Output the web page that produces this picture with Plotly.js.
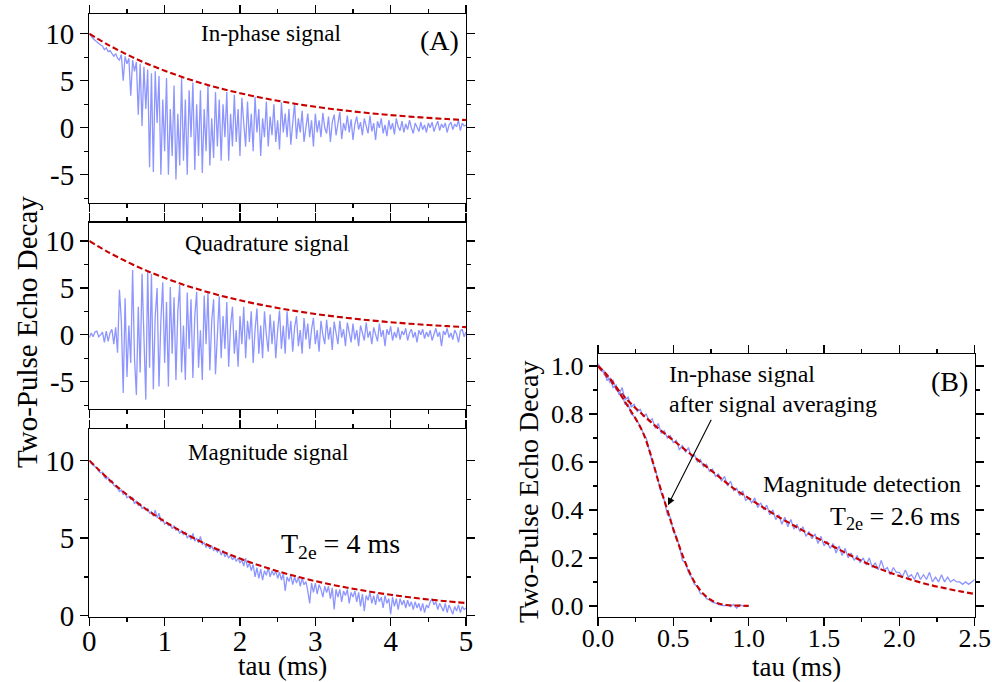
<!DOCTYPE html>
<html>
<head>
<meta charset="utf-8">
<script src="https://cdn.plot.ly/plotly-3.0.1.min.js"></script>
<style>html,body{margin:0;padding:0;background:#fff;}#chart{width:992px;height:682px;}</style>
</head>
<body>
<div id="chart"></div>
<script>
// ---- Data ----
// Panel A: sampled every 0.025 ms from 0 to 5 ms
const tauStartA = 0;
const tauStepA = 0.025;
const inPhaseA = [
10.0,9.7,9.5,9.3,9.1,9.0,8.8,8.7,8.3,8.5,8.1,8.2,7.9,7.6,7.9,7.4,7.2,7.8,5.0,7.6,
6.8,7.4,3.4,7.2,6.0,7.0,1.4,6.8,0.2,6.5,2.0,6.2,-4.2,5.8,-4.7,6.0,0.5,5.5,-5.0,3.0,
-2.5,5.3,-5.0,2.0,-3.0,4.5,-5.5,1.5,-4.0,5.3,-3.5,3.0,-5.0,4.0,-1.0,4.8,-4.5,2.5,-3.0,4.0,
-4.8,2.0,-2.5,4.5,-4.0,1.0,-3.2,3.8,-2.0,3.0,-3.5,2.5,-1.0,3.8,-3.5,1.5,-2.0,3.5,-1.5,2.0,
-3.0,3.2,0.5,-2.0,2.8,-1.5,1.5,-2.5,3.3,-0.5,2.0,-3.0,1.0,-1.0,2.8,-2.0,1.2,-0.8,2.5,-1.5,
0.8,-2.3,2.7,-0.5,1.5,-1.0,2.0,-1.8,0.5,2.6,-1.2,1.0,-0.5,1.8,-1.5,0.2,1.5,-1.0,0.8,-2.0,
1.5,-0.5,0.8,-1.0,1.6,0.0,-0.6,1.2,-1.5,0.6,1.4,-0.8,0.3,1.7,-1.2,0.5,-0.3,1.3,-0.5,0.9,
-1.3,0.4,1.2,-0.2,0.6,-0.8,1.0,0.0,-0.6,1.3,-0.4,0.5,-1.3,0.7,0.0,1.0,-0.6,0.3,-0.9,0.8,
-0.2,0.5,-0.7,1.0,0.1,-0.3,0.7,-0.5,0.4,-0.2,0.8,0.0,-0.6,0.5,0.1,-0.4,0.6,-0.2,0.3,-0.5,
0.5,0.0,0.6,-0.4,0.2,0.7,-0.3,0.4,0.0,0.5,-0.5,0.3,0.6,-0.2,0.4,0.1,0.8,-0.3,0.5,0.2,
0.3];
const quadratureA = [
-0.3,0.2,-0.2,0.3,0.4,-0.2,0.0,0.3,-0.8,0.4,-0.7,0.2,0.6,-1.0,0.8,-1.9,4.8,1.5,-6.2,3.9,
-4.5,1.0,-3.0,6.9,-2.5,-6.4,3.0,-4.0,6.5,-1.0,-6.9,6.8,-3.5,6.5,-5.8,2.0,5.0,-5.5,1.5,5.6,
-3.0,3.5,-5.5,5.1,-2.0,4.0,-4.8,2.5,5.3,-4.0,1.0,-4.8,4.5,-1.5,3.8,-4.6,2.0,4.6,-3.5,0.5,
-4.8,4.2,-1.0,4.6,-3.8,1.5,3.8,-4.2,0.5,4.1,-2.5,2.0,-1.5,3.5,-3.4,1.0,3.0,-2.0,0.5,-3.4,
2.0,-1.0,3.0,-2.5,1.5,-0.5,2.5,-3.0,0.5,2.8,-2.0,1.0,-2.5,2.5,0.0,-1.8,2.2,-1.0,1.5,-2.5,
0.5,2.6,-1.5,1.0,-2.0,2.5,-0.5,1.5,-1.8,0.8,2.0,-1.2,0.5,-2.0,1.8,-0.5,1.2,-1.5,0.6,1.8,
-1.0,0.5,-1.8,1.5,0.0,-1.0,1.6,-0.5,0.8,-1.6,1.4,0.2,-1.0,1.5,-0.3,0.6,-1.2,1.3,0.0,-0.8,
1.2,-0.5,0.5,-1.2,1.0,0.2,-0.6,1.3,-0.3,0.4,-1.0,0.8,0.0,-0.7,1.2,-0.2,0.5,-1.2,0.6,0.0,
0.9,-0.6,0.3,-0.3,0.8,-0.5,0.4,0.0,0.7,-0.6,0.2,0.6,-0.3,0.3,-0.8,0.5,0.0,0.6,-0.4,0.3,
-0.2,0.5,-0.6,0.2,0.7,-0.2,0.3,-1.2,0.4,0.0,0.7,-0.3,0.2,-0.5,0.5,0.1,-0.8,0.4,0.6,-0.2,
0.3];
const magnitudeA = [
10.0,9.8,9.7,9.6,9.5,9.3,9.2,9.25,8.9,8.8,8.9,8.6,8.7,8.4,8.3,8.2,8.0,8.1,7.8,7.9,
7.6,7.7,7.5,7.6,7.2,7.4,7.1,7.2,6.9,7.0,6.8,6.9,6.6,6.7,6.4,6.8,6.3,6.6,6.1,6.2,
5.9,6.0,5.8,5.9,5.6,5.8,5.5,5.6,5.3,5.5,5.2,5.4,5.0,5.2,4.9,5.3,4.8,5.0,4.7,5.1,
4.6,4.7,4.4,4.6,4.3,4.5,4.2,4.3,4.1,4.3,3.9,4.2,3.8,4.0,3.7,3.9,3.6,3.8,3.5,3.7,
3.4,3.6,3.2,3.7,3.1,3.4,2.9,3.3,2.5,3.1,2.4,3.0,2.3,2.9,2.6,3.1,2.5,2.9,2.6,2.9,
2.4,2.8,2.3,2.7,1.6,2.5,2.2,2.6,2.0,2.5,2.1,2.5,1.9,2.4,2.0,2.2,1.6,0.8,2.1,1.5,
2.1,1.4,2.0,1.7,1.2,1.9,1.5,1.9,1.1,1.8,0.4,1.7,1.2,1.7,0.9,1.6,1.3,1.7,0.8,1.5,
1.2,1.6,0.9,1.5,0.6,1.4,0.3,1.3,1.0,1.5,0.8,1.3,0.7,1.4,0.9,1.2,0.5,1.3,0.8,1.1,
0.1,1.2,0.6,1.1,0.4,1.1,0.7,1.0,0.5,1.0,0.6,0.9,0.4,0.9,0.5,0.8,0.3,0.8,0.2,0.7,
0.5,0.9,1.1,0.7,0.9,0.4,0.8,0.5,0.3,0.8,0.2,0.7,0.4,0.1,0.6,0.3,0.7,0.2,0.6,0.4,
0.5];
// Exponential fit (red dashed) for panel A, every 0.25 ms
const fitStepA = 0.25;
const fitA = [10,8.82,7.79,6.87,6.07,5.35,4.72,4.17,3.68,3.25,2.87,2.53,2.23,1.97,1.74,1.53,1.35,1.19,1.05,0.93,0.82];

// Panel B: sampled every 0.02 ms
const tauStepB = 0.02;
const magnitudeB = [
1.01,0.99,0.98,0.94,0.95,0.91,0.92,0.88,0.91,0.86,0.87,0.83,0.84,0.81,0.82,0.79,0.80,0.77,0.78,0.74,
0.76,0.72,0.73,0.70,0.71,0.68,0.69,0.65,0.67,0.64,0.66,0.62,0.63,0.60,0.61,0.58,0.59,0.56,0.57,0.54,
0.55,0.52,0.54,0.50,0.52,0.48,0.49,0.46,0.48,0.44,0.45,0.43,0.45,0.41,0.43,0.40,0.42,0.38,0.40,0.36,
0.38,0.34,0.37,0.33,0.36,0.32,0.34,0.31,0.33,0.29,0.31,0.28,0.30,0.26,0.29,0.25,0.27,0.24,0.26,0.22,
0.25,0.21,0.24,0.20,0.22,0.19,0.21,0.18,0.20,0.17,0.20,0.16,0.18,0.15,0.19,0.15,0.16,0.13,0.16,0.14,
0.14,0.12,0.15,0.12,0.13,0.11,0.14,0.11,0.13,0.11,0.14,0.10,0.12,0.10,0.13,0.10,0.12,0.10,0.11,0.10,
0.10,0.09,0.10,0.09,0.10,0.11];
const inPhaseAvgB = [
1.0,0.99,0.97,0.96,0.93,0.94,0.90,0.89,0.88,0.84,0.84,0.80,0.79,0.77,0.75,0.72,0.70,0.65,0.60,0.57,
0.52,0.47,0.44,0.38,0.37,0.31,0.29,0.25,0.19,0.18,0.14,0.12,0.09,0.08,0.05,0.05,0.03,0.025,0.015,0.012,
0.005,0.004,0.0,0.005,-0.003,0.006,-0.01,0.004,0.0,-0.003,0.0];
const fitStepBMag = 0.1;
const fitBMag = [1.0,0.926,0.855,0.795,0.74,0.69,0.64,0.59,0.54,0.49,0.449,0.409,0.37,0.335,0.30,0.268,0.235,0.203,0.173,0.147,0.125,0.105,0.088,0.074,0.061,0.05];
const fitStepBIn = 0.05;
const fitBIn = [1.0,0.97,0.93,0.88,0.83,0.78,0.72,0.63,0.52,0.42,0.32,0.23,0.15,0.09,0.05,0.025,0.01,0.004,0.002,0.001,0.0];

const yTicksA = [-5,0,5,10];
const yTickTextA = ['-5','0','5','10'];

// ---- Styling ----
const FONT = 'Liberation Serif, Times New Roman, serif';
const BLUE = '#8d95ff';
const RED = '#c80000';
const W = 992, H = 682;
const px = v => v / W;
const py = v => 1 - v / H;

function blue(y, x0, dx, xa, ya) {
  return {type:'scatter', mode:'lines', y:y, x0:x0, dx:dx, xaxis:xa, yaxis:ya,
    line:{color:BLUE, width:1.3}, hoverinfo:'skip', showlegend:false};
}
function fit(y, dx, xa, ya) {
  return {type:'scatter', mode:'lines', y:y, x0:0, dx:dx, xaxis:xa, yaxis:ya,
    line:{color:RED, width:2.1, dash:'6px,3px', shape:'spline'}, hoverinfo:'skip', showlegend:false};
}

const traces = [
  blue(inPhaseA, tauStartA, tauStepA, 'x', 'y'), fit(fitA, fitStepA, 'x', 'y'),
  blue(quadratureA, tauStartA, tauStepA, 'x2', 'y2'), fit(fitA, fitStepA, 'x2', 'y2'),
  blue(magnitudeA, tauStartA, tauStepA, 'x3', 'y3'), fit(fitA, fitStepA, 'x3', 'y3'),
  blue(magnitudeB, 0, tauStepB, 'x4', 'y4'), fit(fitBMag, fitStepBMag, 'x4', 'y4'),
  blue(inPhaseAvgB, 0, tauStepB, 'x4', 'y4'), fit(fitBIn, fitStepBIn, 'x4', 'y4')
];

function axis(extra, fs) {
  return Object.assign({
    showline:true, linecolor:'black', linewidth:1.3, mirror:'allticks',
    ticks:'outside', ticklen:8, tickwidth:1.2, tickcolor:'black',
    showgrid:false, zeroline:false, fixedrange:true,
    tickfont:{family:FONT, size:fs, color:'black'}
  }, extra);
}
const minorX = {dtick:0.5, ticks:'outside', ticklen:4, tickwidth:1.2, tickcolor:'black', showgrid:false};
const minorY = {dtick:2.5, ticks:'outside', ticklen:4, tickwidth:1.2, tickcolor:'black', showgrid:false};

const FA = 29, FB = 26;
const domAx = [px(89.3), px(466)];

function label(text, x, y, size, xanchor) {
  return {text:text, x:px(x), y:py(y), xref:'paper', yref:'paper', showarrow:false,
    xanchor:xanchor || 'center', yanchor:'middle', font:{family:FONT, size:size, color:'black'}};
}
function vlabel(text, x, y, size) {
  const a = label(text, x, y, size);
  a.textangle = -90;
  return a;
}

const layout = {
  width:W, height:H, margin:{l:0, r:0, t:0, b:0},
  paper_bgcolor:'white', plot_bgcolor:'white', showlegend:false,
  font:{family:FONT, color:'black'},
  xaxis: axis({domain:domAx, range:[0,5], dtick:1, showticklabels:false, anchor:'y', minor:minorX}, FA),
  yaxis: axis({domain:[py(203), py(14)], range:[-8,12.1], tickvals:yTicksA, ticktext:yTickTextA, anchor:'x', minor:minorY}, FA),
  xaxis2: axis({domain:domAx, range:[0,5], dtick:1, showticklabels:false, anchor:'y2', minor:minorX}, FA),
  yaxis2: axis({domain:[py(409), py(222.7)], range:[-7.9,11.95], tickvals:yTicksA, ticktext:yTickTextA, anchor:'x2', minor:minorY}, FA),
  xaxis3: axis({domain:domAx, range:[0,5], dtick:1, anchor:'y3', minor:minorX, ticklabelstandoff:-10}, FA),
  yaxis3: axis({domain:[py(616.7), py(429.3)], range:[-0.06,12], tickvals:[0,5,10], ticktext:['0','5','10'], anchor:'x3', minor:minorY}, FA),
  xaxis4: axis({domain:[px(598), px(974.7)], range:[0,2.5], dtick:0.5, tickformat:'.1f', anchor:'y4', ticklabelstandoff:-10,
    minor:{dtick:0.25, ticks:'outside', ticklen:4, tickwidth:1.2, tickcolor:'black', showgrid:false}}, FB),
  yaxis4: axis({domain:[py(616.7), py(354)], range:[-0.045,1.05], dtick:0.2, tickformat:'.1f', anchor:'x4',
    minor:{dtick:0.1, ticks:'outside', ticklen:4, tickwidth:1.2, tickcolor:'black', showgrid:false}}, FB),
  annotations: [
    label('In-phase signal', 271, 34, 23),
    label('(A)', 439, 41, 28),
    label('Quadrature signal', 267, 243, 23),
    label('Magnitude signal', 268, 452, 23),
    label('T<sub>2e</sub> = 4 ms', 340, 545, 28),
    label('In-phase signal', 667, 374, 24, 'left'),
    label('after signal averaging', 667, 404, 24, 'left'),
    label('Magnitude detection', 963, 484, 24, 'right'),
    label('T<sub>2e</sub> = 2.6 ms', 962, 518, 26, 'right'),
    label('(B)', 949, 382, 28),
    vlabel('Two-Pulse Echo Decay', 27, 332, 29),
    vlabel('Two-Pulse Echo Decay', 528, 492, 28),
    label('tau (ms)', 282, 666, 27),
    label('tau (ms)', 796, 667, 27),
    {text:'', x:0.4645, y:0.42, xref:'x4', yref:'y4', showarrow:true, ax:44, ay:-87,
      arrowhead:2, arrowsize:1.3, arrowwidth:1.1, arrowcolor:'black', standoff:0}
  ]
};

Plotly.newPlot('chart', traces, layout, {displayModeBar:false, staticPlot:true});
</script>
</body>
</html>
